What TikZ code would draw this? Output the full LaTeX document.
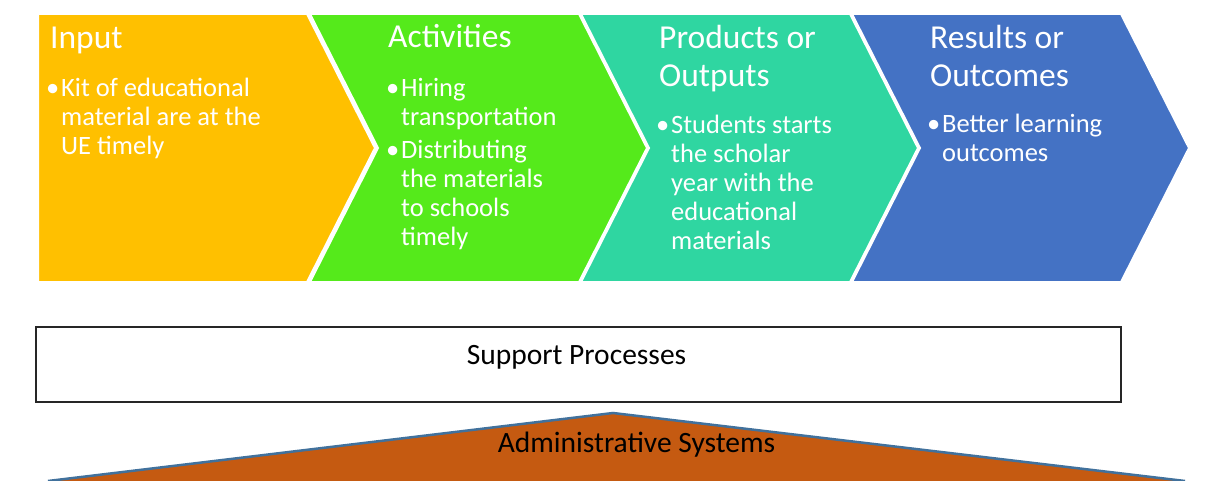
\documentclass[tikz,border=0pt]{standalone}
\usepackage{fontspec}
\setmainfont{Carlito}

\definecolor{inputamarelo}{HTML}{FFC000}
\definecolor{ativverde}{HTML}{55EA1B}
\definecolor{prodturquesa}{HTML}{2FD6A1}
\definecolor{resazul}{HTML}{4472C4}
\definecolor{adminlaranja}{HTML}{C55A11}
\definecolor{adminborda}{HTML}{41719C}

\newcommand{\marca}{\llap{\textbullet\hspace{2pt}}}

\begin{document}
\begin{tikzpicture}[x=1pt, y=-1pt]

		\tikzset{
		    seta/.style={draw=white, line width=2pt, line join=miter},
		    titulo/.style={anchor=base west, text=white, inner sep=0pt, align=left,
		        font=\fontsize{33.5}{38}\selectfont},
		    topico/.style={anchor=base west, text=white, inner sep=0pt, align=left,
		        font=\fontsize{26.5}{29}\selectfont},
		    caixa/.style={draw=black!85, line width=1.3pt, minimum width=1085pt,
		        minimum height=75pt, inner sep=0pt},
		    rotulo/.style={anchor=base, inner sep=0pt, font=\fontsize{29.5}{33}\selectfont},
		    telhado/.style={fill=adminlaranja, draw=adminborda, line width=2.5pt}
		}

		\useasboundingbox (0,0) rectangle (1206,481);

		% Cadeia de resultados
		\fill[inputamarelo, seta] (38,14) -- (307,14) -- (375,148) -- (307,282) -- (38,282) -- cycle;
		\foreach \x/\cor in {310/ativverde, 581/prodturquesa, 852/resazul}
		  \fill[\cor, seta] (\x,14) -- (\x+269,14) -- (\x+337,148) -- (\x+269,282)
		    -- (\x,282) -- (\x+68,148) -- cycle;

		% Input (base = ultima linha)
		\node[titulo] (tin) at (50,49) {Input};
		\node[topico] (kin) at (61,155) {\marca Kit of educational\\material are at the\\UE timely};

		% Activities
		\node[titulo] (tat) at (388,48) {Activities};
		\node[topico] (kat) at (401,245) {\marca Hiring\\transportation\\[4pt]\marca Distributing\\the materials\\to schools\\timely};

		% Products or Outputs
		\node[titulo] (tpr) at (659,87) {Products or\\Outputs};
		\node[topico] (kpr) at (671,249) {\marca Students starts\\the scholar\\year with the\\educational\\materials};

		% Results or Outcomes
		\node[titulo] (tre) at (930,87) {Results or\\Outcomes};
		\node[topico] (kre) at (942,162) {\marca Better learning\\outcomes};

		% Processos de apoio
		\node[caixa] (apoio) at (578.5,364.5) {};
		\node[rotulo] (tapoio) at (576.5,364) {Support Processes};

		% Sistemas administrativos
		\filldraw[telhado] (48,481) -- (613,413) -- (1185,481);
		\node[rotulo] (tadm) at (636.5,452) {Administrative Systems};

\end{tikzpicture}
\end{document}
